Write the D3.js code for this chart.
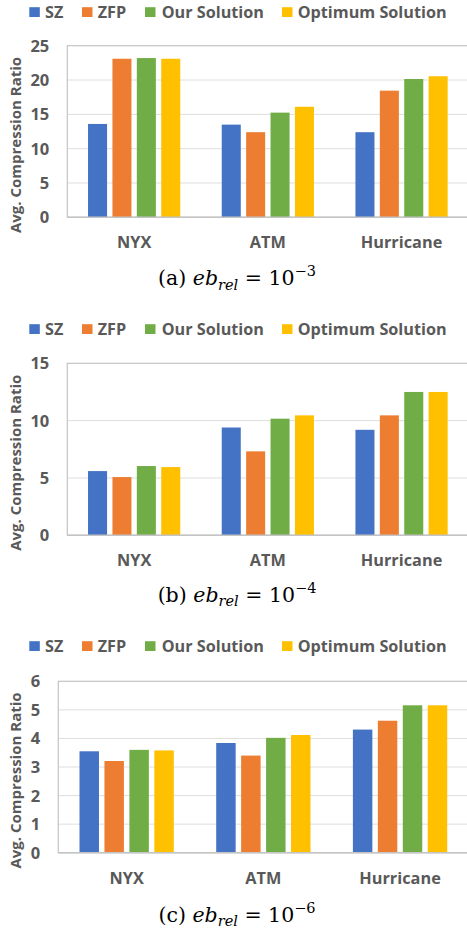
<!DOCTYPE html>
<html>
<head>
<meta charset="utf-8">
<script src="https://cdn.jsdelivr.net/npm/d3@7"></script>
<style>
body { margin: 0; background: #fff; }
text { font-family: "Open Sans", sans-serif; font-weight: 700; fill: #595959; }
text.cap { font-family: "DejaVu Serif", serif; font-weight: 400; fill: #000; }
</style>
</head>
<body>
<div id="chart"></div>
<script>
// data
var categories = ['NYX', 'ATM', 'Hurricane'];
var seriesNames = ['SZ', 'ZFP', 'Our Solution', 'Optimum Solution'];
// one row per panel (a, b, c), one value per category
var szRatio  = [[13.6, 13.5, 12.4], [5.6, 9.4, 9.2], [3.55, 3.84, 4.31]];
var zfpRatio = [[23.1, 12.4, 18.45], [5.08, 7.32, 10.46], [3.21, 3.40, 4.62]];
var ourRatio = [[23.2, 15.25, 20.15], [6.04, 10.17, 12.5], [3.6, 4.02, 5.16]];
var optRatio = [[23.1, 16.1, 20.55], [5.95, 10.46, 12.5], [3.58, 4.12, 5.16]];
var yMax = [25, 15, 6];
var yStep = [5, 5, 1];
var panelTags = ['a', 'b', 'c'];
var exponents = ['3', '4', '6'];

var allSeries = [szRatio, zfpRatio, ourRatio, optRatio];
var colors = ['#4472C4', '#ED7D31', '#70AD47', '#FFC000'];

// layout per panel
var layout = [
  {left: 67.3, top: 45.7, bottom: 217.3, legendY: 12, captionY: 285},
  {left: 67.3, top: 363.3, bottom: 535.3, legendY: 329, captionY: 601.5},
  {left: 58.3, top: 681.3, bottom: 852.7, legendY: 646, captionY: 921.5}
];
var plotRight = 468.4;
var legendBoxX = [29.3, 82, 145, 282];
var legendTextX = [45, 97.7, 161.7, 297.7];

var svg = d3.select('#chart')
            .append('svg')
            .attr('width', 467)
            .attr('height', 930);

for (var p = 0; p < 3; p++) {
  var L = layout[p];
  var g = svg.append('g');

  var y = d3.scaleLinear()
            .domain([0, yMax[p]])
            .range([L.bottom, L.top]);
  var x0 = d3.scaleBand()
             .domain(categories)
             .range([L.left, plotRight]);
  var x1 = d3.scaleBand()
             .domain(seriesNames)
             .range([0, x0.bandwidth()])
             .paddingInner(0.22)
             .paddingOuter(0.85);

  var ticks = d3.range(0, yMax[p] + yStep[p] / 2, yStep[p]);

  // gridlines
  g.selectAll('.grid')
   .data(ticks.slice(1, -1))
   .enter().append('line')
   .attr('x1', L.left)
   .attr('x2', plotRight)
   .attr('y1', function(d) { return y(d) })
   .attr('y2', function(d) { return y(d) })
   .attr('stroke', '#dedede')
   .attr('stroke-width', 1);

  // plot frame
  g.append('rect')
   .attr('x', L.left)
   .attr('y', L.top)
   .attr('width', plotRight - L.left)
   .attr('height', L.bottom - L.top)
   .attr('fill', 'none')
   .attr('stroke', '#c4c4c4')
   .attr('stroke-width', 1.2);

  // y tick labels
  g.selectAll('.tick')
   .data(ticks)
   .enter().append('text')
   .attr('x', L.left - 18)
   .attr('y', function(d) { return y(d) })
   .attr('dy', '0.36em')
   .attr('text-anchor', 'end')
   .style('font-size', '16.5px')
   .text(function(d) { return d });

  // bars
  categories.forEach(function(cat, i) {
    seriesNames.forEach(function(name, s) {
      var v = allSeries[s][p][i];
      g.append('rect')
       .attr('x', x0(cat) + x1(name))
       .attr('y', y(v))
       .attr('width', x1.bandwidth())
       .attr('height', y(0) - y(v))
       .attr('fill', colors[s]);
    });
  });

  // bottom axis line
  g.append('line')
   .attr('x1', L.left)
   .attr('x2', plotRight)
   .attr('y1', y(0))
   .attr('y2', y(0))
   .attr('stroke', '#c4c4c4')
   .attr('stroke-width', 1.5);

  // category labels
  g.selectAll('.cat')
   .data(categories)
   .enter().append('text')
   .attr('x', function(d) { return x0(d) + x0.bandwidth() / 2 })
   .attr('y', L.bottom + 31)
   .attr('text-anchor', 'middle')
   .style('font-size', '16.3px')
   .text(function(d) { return d });

  // y axis title
  var cy = (L.top + L.bottom) / 2 + 13.5;
  g.append('text')
   .attr('transform', 'translate(20.5,' + cy + ') rotate(-90)')
   .attr('text-anchor', 'middle')
   .style('font-size', '15px')
   .text('Avg. Compression Ratio');

  // legend
  seriesNames.forEach(function(name, s) {
    g.append('rect')
     .attr('x', legendBoxX[s])
     .attr('y', L.legendY - 4.8)
     .attr('width', 10.5)
     .attr('height', 9.8)
     .attr('fill', colors[s]);
    g.append('text')
     .attr('x', legendTextX[s])
     .attr('y', L.legendY)
     .attr('dy', '0.36em')
     .style('font-size', '16.2px')
     .text(name);
  });

  // caption
  var cap = g.append('text')
             .attr('class', 'cap')
             .attr('x', 237)
             .attr('y', L.captionY)
             .attr('text-anchor', 'middle')
             .style('font-size', '20.5px');
  cap.append('tspan').text('(' + panelTags[p] + ') ');
  cap.append('tspan').style('font-style', 'italic').text('eb');
  cap.append('tspan').style('font-style', 'italic').style('font-size', '14.5px')
     .attr('dy', 4.5).text('rel');
  cap.append('tspan').attr('dy', -4.5).text(' = 10');
  cap.append('tspan').style('font-size', '14.5px').attr('dy', -9)
     .text('\u2212' + exponents[p]);
}
</script>
</body>
</html>
